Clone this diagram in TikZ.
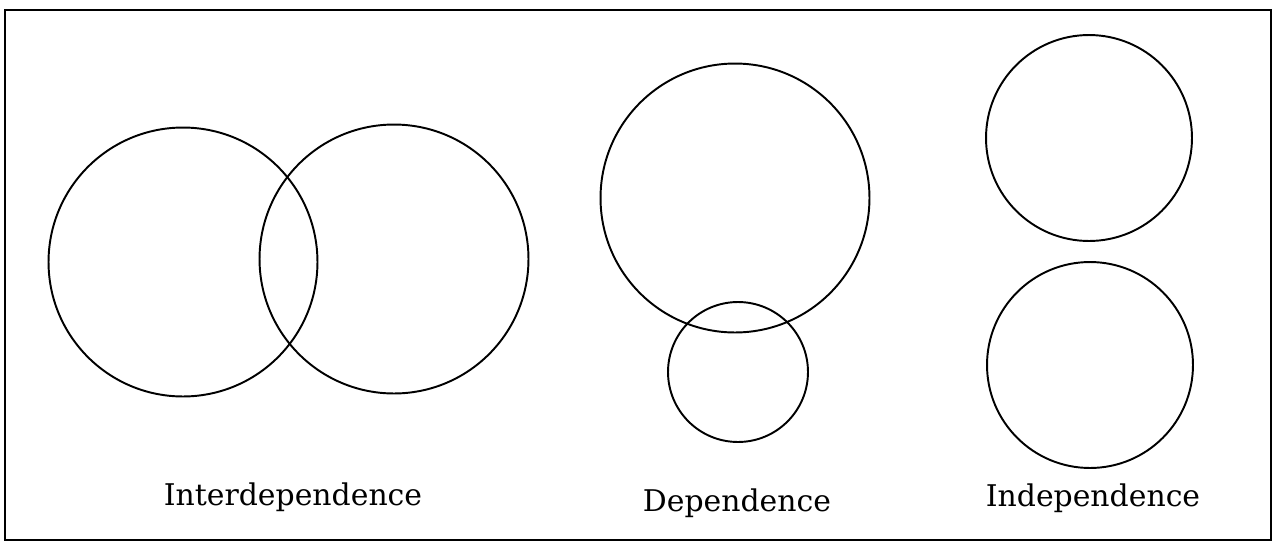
\documentclass[tikz,border=0pt]{standalone}
\usepackage{fontspec}
\setmainfont{DejaVu Serif}
\usepackage{tikz}
\usetikzlibrary{positioning,calc}

\begin{document}
\begin{tikzpicture}[
    x=0.02cm, y=-0.02cm,
    ring/.style={circle,draw,line width=1.1pt,inner sep=0pt,outer sep=0pt},
    big/.style={ring,minimum size=5.38cm},
    small/.style={ring,minimum size=2.8cm},
    mid/.style={ring,minimum size=4.12cm},
    caption/.style={anchor=base,font=\fontsize{17}{20}\selectfont}
]
\useasboundingbox (0,0) rectangle (1275,545);
\draw[line width=1.1pt] (5,10) rectangle (1271,540);

% Interdependence
\node[big] (interA) at (183,262) {};
\node[big] (interB) at (394,259) {};
\node[caption] (interT) at (293,505) {Interdependence};

% Dependence
\node[big] (depA) at (735,198) {};
\node[small] (depB) at (738,372) {};
\node[caption] (depT) at (737,511) {Dependence};

% Independence
\node[mid] (indA) at (1089,138) {};
\node[mid] (indB) at (1090,365) {};
\node[caption] (indT) at (1093,506) {Independence};
\end{tikzpicture}
\end{document}
